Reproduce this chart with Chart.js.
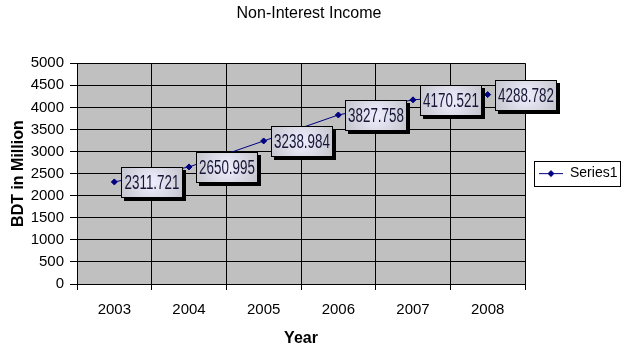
<!DOCTYPE html>
<html>
<head>
<meta charset="utf-8">
<title>Non-Interest Income</title>
<script src="https://cdn.jsdelivr.net/npm/chart.js@4/dist/chart.umd.min.js"></script>
<style>
    html, body { margin: 0; padding: 0; background: #fff; }
</style>
</head>
<body>
<canvas id="incomeChart" width="637" height="351"></canvas>
<script>
const years = ['2003', '2004', '2005', '2006', '2007', '2008'];
const income = [2311.721, 2650.995, 3238.984, 3827.758, 4170.521, 4288.782];
const seriesName = 'Series1';
const yMin = 0;
const yMax = 5000;
const yStep = 500;

const sans = '"Liberation Sans", Arial, sans-serif';

// little line + diamond for the legend entry
const legendMark = document.createElement('canvas');
legendMark.width = 24;
legendMark.height = 9;
const m = legendMark.getContext('2d');
m.strokeStyle = '#000080';
m.lineWidth = 1;
m.beginPath();
m.moveTo(0, 4.5);
m.lineTo(24, 4.5);
m.stroke();
m.fillStyle = '#000080';
m.beginPath();
m.moveTo(12, 1);
m.lineTo(15.5, 4.5);
m.lineTo(12, 8);
m.lineTo(8.5, 4.5);
m.closePath();
m.fill();

const plotBackground = {
    id: 'plotBackground',
    beforeDraw(chart) {
        const {ctx, chartArea: a} = chart;
        ctx.save();
        ctx.fillStyle = '#c0c0c0';
        ctx.fillRect(a.left, a.top, a.right - a.left, a.bottom - a.top);
        ctx.restore();
    }
};

// boxed value labels to the right of each point
const valueBoxes = {
    id: 'valueBoxes',
    afterDatasetsDraw(chart) {
        const ctx = chart.ctx;
        const meta = chart.getDatasetMeta(0);
        const values = chart.data.datasets[0].data;
        const w = 61, h = 30;

        meta.data.forEach((pt, i) => {
            const left = Math.round(pt.x) + 7 + 0.5;
            const top = Math.round(pt.y - h / 2) + 0.5;

            ctx.save();
            ctx.fillStyle = '#000';
            ctx.fillRect(left + 2.5, top + 2.5, w + 1, h + 1);

            const g = ctx.createRadialGradient(left + w / 2, top + h / 2, 2, left + w / 2, top + h / 2, w / 2 + 4);
            g.addColorStop(0, '#ececfc');
            g.addColorStop(1, '#c4c4cc');
            ctx.fillStyle = g;
            ctx.fillRect(left, top, w, h);
            ctx.strokeStyle = '#000';
            ctx.lineWidth = 1;
            ctx.strokeRect(left, top, w, h);

            ctx.translate(left + w / 2, top + h / 2 + 1);
            ctx.scale(0.67, 1);
            ctx.font = '20px ' + sans;
            ctx.fillStyle = '#161636';
            ctx.textAlign = 'center';
            ctx.textBaseline = 'middle';
            ctx.fillText(values[i].toFixed(3), 0, 0);
            ctx.restore();
        });
    }
};

const legendFrame = {
    id: 'legendFrame',
    afterDraw(chart) {
        const box = chart.legend.legendHitBoxes[0];
        if (!box) return;
        const ctx = chart.ctx;
        ctx.save();
        ctx.strokeStyle = '#000';
        ctx.lineWidth = 1;
        ctx.strokeRect(Math.round(box.left) - 4.5, Math.round(box.top) - 5.5, Math.round(box.width) + 8, Math.round(box.height) + 11);
        ctx.restore();
    }
};

const incomeChart = new Chart(document.getElementById('incomeChart'), {
    type: 'line',
    data: {
        labels: years,
        datasets: [{
            label: seriesName,
            data: income,
            borderColor: '#000080',
            backgroundColor: '#000080',
            borderWidth: 1,
            tension: 0,
            fill: false,
            pointStyle: 'rectRot',
            pointRadius: 3,
            pointHoverRadius: 3,
            pointBorderWidth: 1
        }]
    },
    options: {
        responsive: false,
        animation: false,
        layout: { padding: { left: 0, right: 19, top: 0, bottom: 0 } },
        plugins: {
            tooltip: { enabled: false },
            title: {
                display: true,
                text: 'Non-Interest Income',
                color: '#000',
                font: { family: sans, size: 16, weight: 'normal' },
                padding: { top: 4, bottom: 40 }
            },
            legend: {
                position: 'right',
                fullSize: false,
                maxWidth: 93,
                labels: {
                    usePointStyle: true,
                    pointStyle: legendMark,
                    pointStyleWidth: 24,
                    padding: 14,
                    color: '#000',
                    font: { family: sans, size: 14 }
                }
            }
        },
        scales: {
            x: {
                offset: true,
                grid: { offset: true, color: '#000', tickColor: '#000', tickLength: 6, lineWidth: 1 },
                border: { color: '#000' },
                ticks: { color: '#000', font: { family: sans, size: 15 }, padding: 11, maxRotation: 0 },
                title: {
                    display: true,
                    text: 'Year',
                    color: '#000',
                    font: { family: sans, size: 16, weight: 'bold' },
                    padding: { top: 0, bottom: 3 }
                },
                afterFit(scale) { scale.height = 67; }
            },
            y: {
                min: yMin,
                max: yMax,
                grid: { color: '#000', tickColor: '#000', tickLength: 7, lineWidth: 1 },
                border: { color: '#000' },
                ticks: {
                    stepSize: yStep,
                    autoSkip: false,
                    color: '#000',
                    font: { family: sans, size: 15 },
                    padding: 6,
                    callback: (v) => String(v)
                },
                title: {
                    display: true,
                    text: 'BDT in Million',
                    color: '#000',
                    font: { family: sans, size: 16, weight: 'bold' },
                    padding: { top: 9, bottom: 0 }
                },
                afterFit(scale) { scale.width = 77; }
            }
        }
    },
    plugins: [plotBackground, valueBoxes, legendFrame]
});
</script>
</body>
</html>
